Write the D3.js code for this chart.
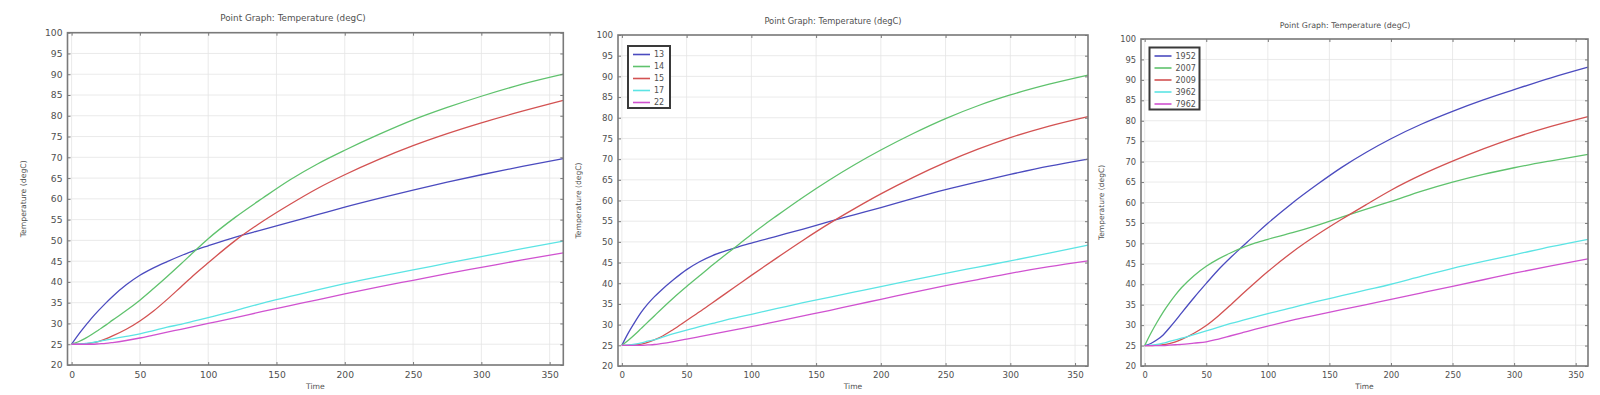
<!DOCTYPE html>
<meta charset="utf-8">
<body style="margin:0;background:#fff">
<style>
  text { font-family: "DejaVu Sans", sans-serif; fill: #505050; }
  .grid line { stroke: #e4e4e4; stroke-width: 0.8px; }
  .frame { fill: none; stroke: #7a7a7a; stroke-width: 1.6px; }
</style>
<svg width="1600" height="395"></svg>
<script src="https://cdnjs.cloudflare.com/ajax/libs/d3/7.8.5/d3.min.js"></script>
<script>

// time samples shared by all three graphs
var time = [0, 5, 10, 15, 20, 25, 30, 40, 50, 60, 70, 80, 90, 100, 120, 140, 160, 180, 200, 225, 250, 275, 300, 330, 360];

var xTicks = [0, 50, 100, 150, 200, 250, 300, 350];
var yTicks = [20, 25, 30, 35, 40, 45, 50, 55, 60, 65, 70, 75, 80, 85, 90, 95, 100];

// graph 1 (no legend)
var g1Blue    = [25, 27.3, 29.4, 31.4, 33.2, 34.9, 36.5, 39.3, 41.6, 43.4, 44.9, 46.3, 47.6, 48.7, 50.8, 52.6, 54.4, 56.2, 58.0, 60.1, 62.1, 64.0, 65.8, 67.8, 69.7];
var g1Green   = [25, 25.6, 26.4, 27.4, 28.5, 29.6, 30.8, 33.1, 35.6, 38.4, 41.3, 44.3, 47.4, 50.4, 55.6, 60.2, 64.6, 68.4, 71.7, 75.5, 79, 82, 84.7, 87.6, 90];
var g1Red     = [25, 25, 25.1, 25.3, 25.7, 26.3, 27, 28.6, 30.6, 33, 35.8, 38.8, 41.8, 44.6, 50, 54.6, 58.7, 62.5, 65.8, 69.5, 72.8, 75.7, 78.3, 81.1, 83.7];
var g1Cyan    = [25, 25, 25.2, 25.4, 25.7, 26, 26.3, 26.9, 27.5, 28.3, 29.1, 29.8, 30.6, 31.4, 33.1, 34.9, 36.5, 38.1, 39.6, 41.3, 42.9, 44.5, 46.1, 48, 49.8];
var g1Magenta = [25, 25, 25, 25, 25.1, 25.2, 25.4, 25.9, 26.5, 27.2, 27.9, 28.6, 29.3, 30, 31.4, 32.9, 34.3, 35.7, 37.1, 38.8, 40.4, 42, 43.5, 45.3, 47];

// graph 2
var g2Names   = ["13", "14", "15", "17", "22"];
var g2Blue    = [25, 28, 30.6, 33, 35, 36.7, 38.2, 40.9, 43.3, 45.2, 46.7, 47.8, 48.8, 49.7, 51.4, 53.1, 54.9, 56.6, 58.3, 60.5, 62.6, 64.5, 66.3, 68.3, 70];
var g2Green   = [25, 26.2, 27.6, 29.1, 30.6, 32.1, 33.6, 36.5, 39.2, 41.8, 44.4, 46.9, 49.3, 51.8, 56.4, 60.8, 64.9, 68.7, 72.2, 76.2, 79.8, 82.9, 85.5, 88.1, 90.3];
var g2Red     = [25, 25, 25.1, 25.3, 25.7, 26.3, 27, 28.9, 31, 33.1, 35.3, 37.5, 39.7, 41.9, 46.2, 50.4, 54.4, 58.1, 61.6, 65.6, 69.2, 72.4, 75.2, 78, 80.3];
var g2Cyan    = [25, 25.1, 25.3, 25.6, 26, 26.3, 26.8, 27.8, 28.7, 29.5, 30.3, 31.1, 31.8, 32.5, 33.9, 35.3, 36.6, 37.9, 39.2, 40.8, 42.4, 43.9, 45.4, 47.3, 49.2];
var g2Magenta = [25, 25, 25, 25, 25.1, 25.2, 25.4, 25.9, 26.5, 27.1, 27.7, 28.3, 28.9, 29.5, 30.8, 32.1, 33.4, 34.8, 36.1, 37.8, 39.4, 40.9, 42.4, 44, 45.4];

// graph 3
var g3Names   = ["1952", "2007", "2009", "3962", "7962"];
var g3Blue    = [25, 25.5, 26.4, 27.6, 29.3, 31.1, 33, 36.7, 40.2, 43.6, 46.6, 49.4, 52.2, 54.9, 59.9, 64.4, 68.6, 72.3, 75.6, 79.2, 82.3, 85.1, 87.6, 90.5, 93.1];
var g3Green   = [25, 28, 30.7, 33.2, 35.4, 37.4, 39.2, 42.1, 44.4, 46.2, 47.7, 49, 50.1, 51, 52.6, 54.4, 56.4, 58.4, 60.3, 62.8, 65, 66.9, 68.5, 70.2, 71.8];
var g3Red     = [25, 25, 25.1, 25.2, 25.5, 25.9, 26.5, 28, 29.9, 32.3, 35, 37.8, 40.5, 43.1, 47.9, 52.1, 55.9, 59.5, 63, 66.8, 70.1, 73.1, 75.8, 78.6, 81];
var g3Cyan    = [25, 25.1, 25.3, 25.6, 26, 26.4, 26.8, 27.7, 28.6, 29.5, 30.4, 31.2, 32, 32.8, 34.3, 35.8, 37.2, 38.6, 40, 42, 43.9, 45.6, 47.2, 49.2, 51];
var g3Magenta = [25, 25, 25, 25, 25.1, 25.2, 25.3, 25.6, 25.9, 26.6, 27.4, 28.2, 29, 29.75, 31.2, 32.5, 33.8, 35, 36.3, 37.9, 39.5, 41.1, 42.7, 44.5, 46.2];

var colors = ["#4b4bbf", "#5fc26d", "#d35252", "#5ce4e4", "#d052d0"];

var svg = d3.select("svg");

// layout of the three screenshots (each one is a bit differently scaled)
var panels = [
  { left: 67.5, right: 563.3, top: 32.7, bottom: 365, titleX: 293, titleY: 21, ylabX: 23,
    fsTitle: 8.8, fsTick: 9.2, fsLabel: 7.7, names: null,
    series: [g1Blue, g1Green, g1Red, g1Cyan, g1Magenta] },
  { left: 618, right: 1088, top: 35, bottom: 366, titleX: 833, titleY: 24, ylabX: 578,
    fsTitle: 8.3, fsTick: 8.7, fsLabel: 7.6, names: g2Names, legX: 628, legY: 46, legW: 42,
    series: [g2Blue, g2Green, g2Red, g2Cyan, g2Magenta] },
  { left: 1141, right: 1588, top: 39, bottom: 366, titleX: 1345, titleY: 28, ylabX: 1101,
    fsTitle: 7.9, fsTick: 8.3, fsLabel: 7.5, names: g3Names, legX: 1149.5, legY: 47.5, legW: 50,
    series: [g3Blue, g3Green, g3Red, g3Cyan, g3Magenta] }
];

panels.forEach(function(p) {
  var x = d3.scaleLinear().domain([-3, 360]).range([p.left, p.right]);
  var y = d3.scaleLinear().domain([20, 100]).range([p.bottom, p.top]);
  var g = svg.append("g");

  // grid
  var grid = g.append("g").attr("class", "grid");
  grid.selectAll(".vx").data(xTicks).enter().append("line")
      .attr("x1", d => x(d)).attr("x2", d => x(d))
      .attr("y1", p.top).attr("y2", p.bottom);
  grid.selectAll(".hy").data(yTicks).enter().append("line")
      .attr("x1", p.left).attr("x2", p.right)
      .attr("y1", d => y(d)).attr("y2", d => y(d));

  // curves
  var line = d3.line()
      .x(function(d, i) { return x(time[i]); })
      .y(function(d) { return y(d); })
      .curve(d3.curveMonotoneX);
  g.selectAll(".curve").data(p.series).enter().append("path")
      .attr("d", line)
      .attr("fill", "none")
      .attr("stroke", (d, i) => colors[i])
      .attr("stroke-width", 1.3);

  // axes with inward ticks on all sides
  var ax = d3.axisBottom(x).tickValues(xTicks).tickSize(-3).tickPadding(6);
  var ay = d3.axisLeft(y).tickValues(yTicks).tickSize(-3).tickPadding(5);
  var gx = g.append("g").attr("transform", "translate(0," + p.bottom + ")").call(ax);
  var gy = g.append("g").attr("transform", "translate(" + p.left + ",0)").call(ay);
  g.append("g").attr("transform", "translate(0," + p.top + ")")
      .call(d3.axisTop(x).tickValues(xTicks).tickSize(-3).tickFormat(""));
  g.append("g").attr("transform", "translate(" + p.right + ",0)")
      .call(d3.axisRight(y).tickValues(yTicks).tickSize(-3).tickFormat(""));
  g.selectAll(".domain").remove();
  g.selectAll(".tick line").attr("stroke", "#7a7a7a");
  [gx, gy].forEach(function(a) {
    a.selectAll("text").style("font-size", p.fsTick + "px").attr("fill", "#505050")
      .style("font-family", "DejaVu Sans, sans-serif");
  });

  g.append("rect").attr("class", "frame")
      .attr("x", p.left).attr("y", p.top)
      .attr("width", p.right - p.left).attr("height", p.bottom - p.top);

  // texts
  g.append("text").attr("x", p.titleX).attr("y", p.titleY)
      .attr("text-anchor", "middle").style("font-size", p.fsTitle + "px")
      .text("Point Graph: Temperature (degC)");
  g.append("text").attr("x", (p.left + p.right) / 2).attr("y", 389)
      .attr("text-anchor", "middle").style("font-size", p.fsLabel + "px")
      .text("Time");
  g.append("text")
      .attr("transform", "translate(" + (p.ylabX + 3) + "," + ((p.top + p.bottom) / 2) + ") rotate(-90)")
      .attr("text-anchor", "middle").style("font-size", p.fsLabel + "px")
      .text("Temperature (degC)");

  // legend
  if (p.names) {
    var lg = g.append("g").attr("transform", "translate(" + p.legX + "," + p.legY + ")");
    lg.append("rect").attr("width", p.legW).attr("height", 62)
        .attr("fill", "#fff").attr("stroke", "#3a3a3a").attr("stroke-width", 2);
    var item = lg.selectAll(".item").data(p.names).enter().append("g")
        .attr("transform", (d, i) => "translate(0," + (8.5 + i * 12) + ")");
    item.append("line").attr("x1", 5).attr("x2", 22)
        .attr("stroke", (d, i) => colors[i]).attr("stroke-width", 1.6);
    item.append("text").attr("x", 26).attr("dy", "0.35em")
        .style("font-size", "8px").text(d => d);
  }
});

</script>
</body>
